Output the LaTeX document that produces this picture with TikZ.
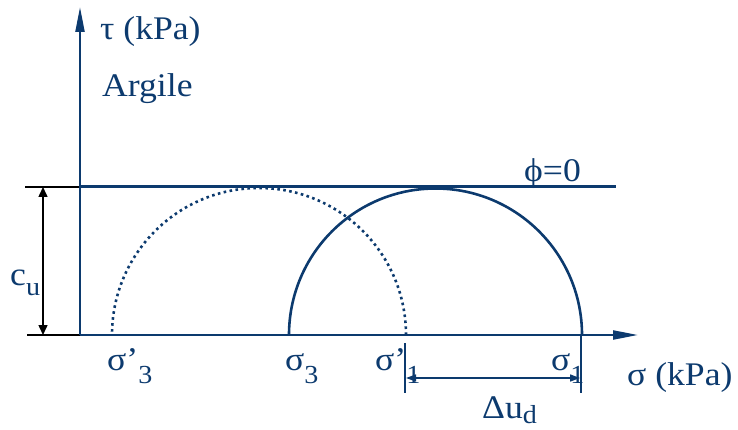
\documentclass[tikz,border=0pt]{standalone}
\usepackage{fontspec}
\setmainfont{Liberation Serif}[FakeStretch=1.08]
\usetikzlibrary{arrows.meta}
\definecolor{navy}{RGB}{12,58,110}
\newcommand{\mysub}[2][13pt]{\raisebox{-#1}{\fontsize{26}{26}\selectfont #2}}
\begin{document}
\begin{tikzpicture}[x=1pt,y=-1pt,
  axisline/.style={draw=navy,line width=2.2pt,-{Triangle[length=25pt,width=9pt]}},
  envline/.style={draw=navy,line width=3pt},
  circsolid/.style={draw=navy,line width=2.6pt},
  circdot/.style={draw=navy,line width=2.6pt,dash pattern=on 2.6pt off 3.4pt},
  blackline/.style={draw=black,line width=1.5pt},
  dimblack/.style={draw=black,line width=1.5pt,{Triangle[length=10pt,width=9pt]}-{Triangle[length=10pt,width=9pt]}},
  dimnavy/.style={draw=navy,line width=1.5pt,{Triangle[length=10pt,width=7pt]}-{Triangle[length=10pt,width=7pt]}},
  tick/.style={draw=navy,line width=1.5pt},
  lab/.style={text=navy,font=\fontsize{33}{33}\selectfont,inner sep=0pt,anchor=base west}
]
\useasboundingbox (0,0) rectangle (738,430);
% coordinates
\coordinate (O) at (80,335);
\coordinate (Ytop) at (80,7);
\coordinate (Xend) at (638,335);
\coordinate (E0) at (80,187);
\coordinate (E1) at (616,187);
% extension lines and c_u dimension
\coordinate (T0) at (25,187);
\coordinate (B0) at (27,335);
\draw[blackline] (T0) -- (E0);
\draw[blackline] (B0) -- (O);
\coordinate (Ct) at (43,187);
\coordinate (Cb) at (43,335);
\draw[dimblack] (Ct) -- (Cb);
% circles
\coordinate (D0) at (406,335);
\coordinate (S0) at (582,335);
\draw[circdot] (D0) arc[start angle=0,end angle=180,radius=147pt];
\draw[circsolid] (S0) arc[start angle=0,end angle=180,radius=146.5pt];
% envelope
\draw[envline] (E0) -- (E1);
% axes
\draw[axisline] (O) -- (Ytop);
\draw[axisline] (O) -- (Xend);
% labels
\node[lab] (tau) at (100,40) {τ (kPa)};
\node[lab] (arg) at (102,97) {Argile};
\node[lab] (phi) at (524,182) {ϕ=0};
\node[lab] (cu) at (10,285) {c\mysub[10pt]{u}};
\node[lab] (s3p) at (107,370) {σ’\mysub{3}};
\node[lab] (s3) at (285,370) {σ\mysub{3}};
\node[lab] (s1p) at (375,370) {σ’\mysub{1}};
\node[lab] (s1) at (551,370) {σ\mysub{1}};
\node[lab] (sax) at (627,385) {σ (kPa)};
\node[lab] (du) at (482,418) {Δu\mysub[5pt]{d}};
% delta u markers
\coordinate (M1a) at (405,343);
\coordinate (M1b) at (405,393);
\coordinate (M2a) at (581,335);
\coordinate (M2b) at (581,393);
\draw[tick] (M1a) -- (M1b);
\draw[tick] (M2a) -- (M2b);
\coordinate (A1) at (406,378);
\coordinate (A2) at (580,378);
\draw[dimnavy] (A1) -- (A2);
\end{tikzpicture}
\end{document}
